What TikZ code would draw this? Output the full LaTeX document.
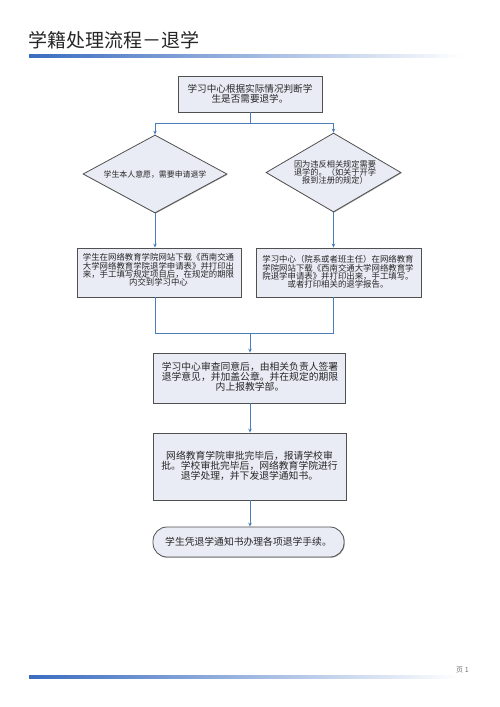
\documentclass[tikz,border=0pt]{standalone}
\usepackage{fontspec}
\newfontfamily\cjk{Noto Sans CJK SC}
\usetikzlibrary{shapes.geometric,arrows.meta,shadows}
\definecolor{flow}{HTML}{4A7EBB}
\definecolor{boxfill}{HTML}{E9ECF5}
\definecolor{boxline}{HTML}{505050}
\definecolor{bar}{HTML}{3A6CC0}
\begin{document}
\begin{tikzpicture}[x=1pt,y=-1pt,
  box/.style={draw=boxline, fill=boxfill, line width=0.8pt, inner sep=0pt, align=center,
    drop shadow={shadow xshift=0.7pt,shadow yshift=-0.7pt,fill=black!35,opacity=1}},
  dia/.style={diamond, draw=boxline, fill=boxfill, line width=0.8pt, inner sep=0pt,
    drop shadow={shadow xshift=0.7pt,shadow yshift=-0.7pt,fill=black!35,opacity=1}},
  txt/.style={align=center, inner sep=0pt, text=black!85},
  fs/.style={font=\cjk\fontsize{#1}{#1}\selectfont},
  arr/.style={draw=flow, line width=0.8pt, -{Stealth[length=4pt,width=3.5pt]}},
  ln/.style={draw=flow, line width=0.8pt}
]
\useasboundingbox (0,0) rectangle (500,707);
% title and bars
\node[anchor=base west, inner sep=0pt, font=\cjk\fontsize{19}{19}\selectfont, text=black!85] (title) at (28,47) {学籍处理流程－退学};
\shade[left color=bar, right color=white] (29,54.5) rectangle (463,57.5);
\shade[left color=bar, right color=white] (29,675.5) rectangle (460,678.5);
\node[anchor=base west, inner sep=0pt, font=\cjk\fontsize{7}{7}\selectfont, text=black!55] (page) at (456,672) {页 1};

% top box
\node[box, minimum width=144pt, minimum height=36pt] (top) at (250,94) {};
\node[txt, fs=9.6] (topt) at (top.center) {\fontsize{9.6}{9.8}\selectfont 学习中心根据实际情况判断学\\生是否需要退学。};

% diamonds
\node[dia, minimum width=144pt, minimum height=78pt] (ld) at (155,174) {};
\node[txt, fs=7.9] (ldt) at (155,175) {学生本人意愿，需要申请退学};
\node[dia, minimum width=135pt, minimum height=79pt] (rd) at (333.5,172.5) {};
\node[txt, fs=8.2] (rdt) at (335,172.7) {\fontsize{8.2}{10.6}\selectfont 因为违反相关规定需要\\退学的。（如关于开学\\报到注册的规定）};

% second row boxes
\node[box, minimum width=164pt, minimum height=49pt] (lb) at (159,272.5) {};
\node[txt, fs=8.4] (lbt) at (158.5,270) {\fontsize{8.4}{9}\selectfont 学生在网络教育学院网站下载《西南交通\\大学网络教育学院退学申请表》并打印出\\来，手工填写规定项目后，在规定的期限\\内交到学习中心};
\node[box, minimum width=165pt, minimum height=49pt] (rb) at (338.5,272.5) {};
\node[txt, fs=8.4] (rbt) at (338,272) {\fontsize{8.4}{10.3}\selectfont 学习中心（院系或者班主任）在网络教育\\学院网站下载《西南交通大学网络教育学\\院退学申请表》并打印出来，手工填写。\\或者打印相关的退学报告。};

% middle boxes
\node[box, minimum width=192pt, minimum height=50pt] (mb) at (249,378) {};
\node[txt, fs=9.8] (mbt) at (250,377) {\fontsize{9.8}{13.2}\selectfont 学习中心审查同意后，由相关负责人签署\\退学意见，并加盖公章。并在规定的期限\\内上报教学部。};
\node[box, minimum width=193pt, minimum height=67pt] (nb) at (249.5,466.5) {};
\node[txt, fs=9.8] (nbt) at (249.5,466) {\fontsize{9.8}{13.2}\selectfont 网络教育学院审批完毕后，报请学校审\\批。学校审批完毕后，网络教育学院进行\\退学处理，并下发退学通知书。};
\node[box, rounded corners=14pt, minimum width=191pt, minimum height=30pt] (fb) at (248.5,542) {};
\node[txt, fs=9.8] (fbt) at (248.5,542) {学生凭退学通知书办理各项退学手续。};

% connectors
\coordinate (j1) at (250,123.5);
\draw[ln] (top.south) -- (j1);
\draw[arr] (j1) -| (ld.north);
\draw[arr] (j1) -| (rd.north);
\draw[arr] (ld.south) -- (ld.south |- lb.north);
\draw[arr] (rd.south) -- (rd.south |- rb.north);
\coordinate (j2) at (250,333);
\draw[ln] (ld.south |- lb.south) |- (j2);
\draw[ln] (rd.south |- rb.south) |- (j2);
\draw[arr] (j2) -- (j2 |- mb.north);
\draw[arr] (mb.south -| j2) -- (j2 |- nb.north);
\draw[arr] (nb.south -| j2) -- (j2 |- fb.north);
\end{tikzpicture}
\end{document}
